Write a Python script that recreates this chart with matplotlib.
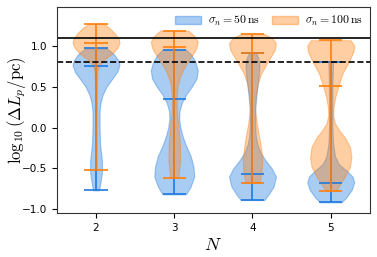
import matplotlib as mpl
mpl.use('Agg')
import matplotlib.pyplot as plt
from matplotlib.patches import Patch
from matplotlib.colors import to_rgba

mpl.rcParams['mathtext.fontset'] = 'cm'

N_vals = [2, 3, 4, 5]

# summary bars (min / middle / max)
blue_min = [-0.768, -0.817, -0.886, -0.914]
blue_med = [0.748, 0.348, -0.572, -0.675]
blue_max = [0.968, 0.951, 0.910, 0.805]
orange_min = [-0.523, -0.613, -0.675, -0.776]
orange_med = [1.029, 0.984, 0.910, 0.511]
orange_max = [1.269, 1.183, 1.143, 1.066]

# violin outlines: y value and relative width, one list per N
blue_y = [
    [0.968, 0.90, 0.82, 0.76, 0.68, 0.60, 0.50, 0.40, 0.30, 0.20, 0.0, -0.2, -0.4, -0.55, -0.65, -0.768],
    [0.951, 0.88, 0.80, 0.70, 0.60, 0.50, 0.40, 0.30, 0.20, 0.10, 0.0, -0.10, -0.20, -0.35, -0.48, -0.60, -0.72, -0.817],
    [0.910, 0.85, 0.75, 0.62, 0.45, 0.25, 0.05, -0.10, -0.20, -0.30, -0.40, -0.50, -0.60, -0.72, -0.82, -0.886],
    [0.805, 0.60, 0.30, 0.0, -0.20, -0.35, -0.45, -0.52, -0.60, -0.67, -0.76, -0.86, -0.914],
]
blue_w = [
    [0.45, 0.75, 0.95, 1.0, 0.90, 0.70, 0.45, 0.28, 0.19, 0.15, 0.15, 0.17, 0.25, 0.25, 0.20, 0.13],
    [0.50, 0.75, 0.90, 1.0, 0.95, 0.75, 0.50, 0.32, 0.22, 0.21, 0.26, 0.35, 0.47, 0.70, 0.82, 0.85, 0.70, 0.50],
    [0.15, 0.25, 0.30, 0.26, 0.19, 0.12, 0.11, 0.14, 0.20, 0.33, 0.55, 0.82, 1.0, 0.90, 0.68, 0.50],
    [0.10, 0.08, 0.07, 0.07, 0.10, 0.18, 0.35, 0.65, 0.93, 1.0, 0.90, 0.65, 0.45],
]
orange_y = [
    [1.269, 1.22, 1.15, 1.08, 1.03, 0.97, 0.90, 0.83, 0.76, 0.70, 0.50, 0.0, -0.30, -0.523],
    [1.183, 1.12, 1.05, 0.98, 0.92, 0.83, 0.72, 0.62, 0.50, 0.35, 0.20, 0.0, -0.20, -0.40, -0.55, -0.613],
    [1.143, 1.09, 1.03, 0.95, 0.85, 0.78, 0.66, 0.54, 0.38, 0.21, 0.05, -0.10, -0.25, -0.40, -0.55, -0.675],
    [1.066, 1.00, 0.93, 0.79, 0.66, 0.52, 0.38, 0.25, 0.15, 0.05, -0.05, -0.12, -0.24, -0.36, -0.48, -0.60, -0.72, -0.776],
]
orange_w = [
    [0.30, 0.55, 0.80, 0.97, 1.0, 0.90, 0.68, 0.35, 0.15, 0.07, 0.04, 0.03, 0.03, 0.03],
    [0.60, 0.85, 1.0, 0.95, 0.85, 0.63, 0.40, 0.25, 0.14, 0.10, 0.11, 0.18, 0.24, 0.25, 0.20, 0.17],
    [0.50, 0.85, 1.0, 0.95, 0.75, 0.60, 0.37, 0.23, 0.13, 0.11, 0.18, 0.28, 0.36, 0.42, 0.38, 0.30],
    [0.85, 1.0, 0.97, 0.75, 0.50, 0.34, 0.20, 0.12, 0.10, 0.18, 0.40, 0.60, 0.82, 0.88, 0.82, 0.60, 0.34, 0.20],
]

solid_level = 1.094
dashed_level = 0.797

blue = '#1f7ae0'
orange = '#ff7f0e'


def stats_list(ys, ws, lo, med, hi):
    out = []
    for y, w, a, m, b in zip(ys, ws, lo, med, hi):
        out.append(dict(coords=y, vals=w, mean=m, median=m, min=a, max=b))
    return out


def style(parts, c):
    for b in parts['bodies']:
        b.set_alpha(None)
        b.set_facecolor(to_rgba(c, 0.38))
        b.set_edgecolor(to_rgba(c, 0.4))
        b.set_linewidth(0.8)
    for k in ['cbars', 'cmins', 'cmaxes', 'cmedians']:
        parts[k].set_color(c)
        parts[k].set_linewidth(1.2)


fig = plt.figure(figsize=(3.77, 2.57), dpi=100)
ax = fig.add_axes([0.151, 0.171, 0.830, 0.802])

pb = ax.violin(stats_list(blue_y, blue_w, blue_min, blue_med, blue_max),
               positions=N_vals, widths=0.6, showmedians=True, showextrema=True)
style(pb, blue)
po = ax.violin(stats_list(orange_y, orange_w, orange_min, orange_med, orange_max),
               positions=N_vals, widths=0.6, showmedians=True, showextrema=True)
style(po, orange)

ax.axhline(solid_level, color='k', lw=1.2)
ax.axhline(dashed_level, color='k', lw=1.2, ls='--')

ax.set_xlim(1.5, 5.5)
ax.set_ylim(-1.045, 1.473)
ax.set_xticks(N_vals)
ax.set_yticks([-1.0, -0.5, 0.0, 0.5, 1.0])
ax.tick_params(labelsize=7.5)
for s in ax.spines.values():
    s.set_color('#333333')

ax.set_xlabel(r'$N$', fontsize=13, labelpad=2)
ax.set_ylabel(r'$\log_{10}(\Delta L_p/\mathrm{pc})$', fontsize=12)
ax.yaxis.set_label_coords(-0.093, 0.5)

handles = [Patch(facecolor=to_rgba(blue, 0.38), edgecolor=to_rgba(blue, 0.4)),
           Patch(facecolor=to_rgba(orange, 0.38), edgecolor=to_rgba(orange, 0.4))]
ax.legend(handles, [r'$\sigma_n = 50\,\mathrm{ns}$', r'$\sigma_n = 100\,\mathrm{ns}$'],
          loc='upper right', ncol=2, frameon=False, fontsize=8.5,
          borderaxespad=0.2, columnspacing=1.0, handlelength=2.2, handletextpad=0.6)

plt.savefig('out.png', dpi=100)
